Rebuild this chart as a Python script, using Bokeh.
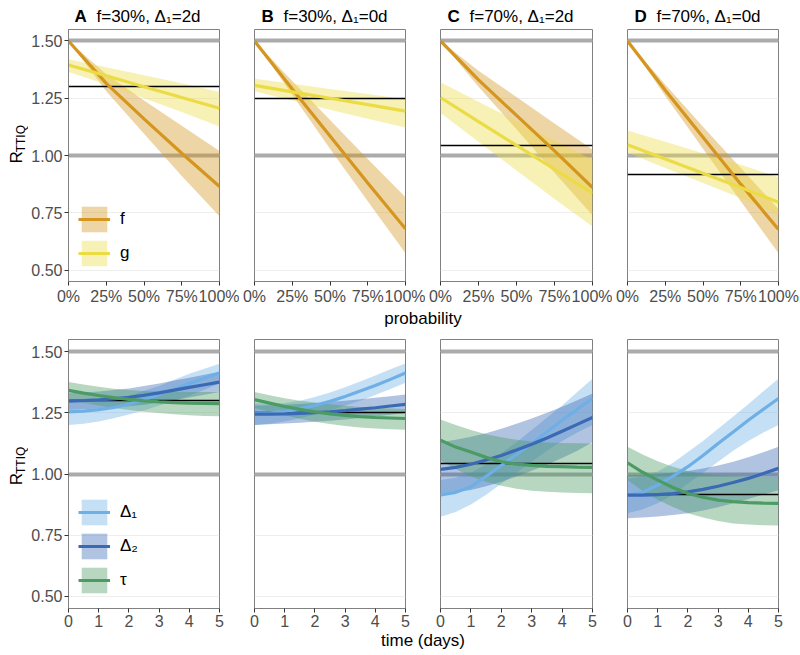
from math import pi
from bokeh.plotting import figure
from bokeh.layouts import column, row
from bokeh.models import Range1d, FixedTicker, NumeralTickFormatter, Label, Legend, LegendItem
from bokeh.core.properties import value
from bokeh.embed import file_html
from bokeh.resources import INLINE

FONT = "Liberation Sans"

# ---------------- data ----------------
letters = ["A", "B", "C", "D"]
titles = ["f=30%, Δ₁=2d", "f=30%, Δ₁=0d", "f=70%, Δ₁=2d", "f=70%, Δ₁=0d"]
reference_levels = [1.0, 1.5]
observed_R = [1.30, 1.25, 1.044, 0.918]
y_ticks = [0.5, 0.75, 1.0, 1.25, 1.5]
prob_ticks = [0, 0.25, 0.5, 0.75, 1.0]
day_ticks = [0, 1, 2, 3, 4, 5]

prob = [0.0, 0.25, 0.5, 0.75, 1.0]
f_mid = [[1.50, 1.315, 1.16, 1.01, 0.865],
         [1.50, 1.29, 1.085, 0.88, 0.68],
         [1.50, 1.33, 1.175, 1.02, 0.86],
         [1.50, 1.285, 1.08, 0.875, 0.677]]
f_hi = [[1.50, 1.355, 1.24, 1.13, 1.02],
        [1.50, 1.325, 1.155, 0.985, 0.818],
        [1.50, 1.37, 1.255, 1.14, 1.026],
        [1.50, 1.31, 1.125, 0.945, 0.767]]
f_lo = [[1.50, 1.28, 1.095, 0.91, 0.735],
        [1.50, 1.265, 1.03, 0.80, 0.573],
        [1.50, 1.30, 1.115, 0.925, 0.739],
        [1.50, 1.26, 1.03, 0.80, 0.573]]
g_mid = [[1.395, 1.348, 1.30, 1.253, 1.206],
         [1.306, 1.278, 1.25, 1.222, 1.194],
         [1.253, 1.148, 1.044, 0.94, 0.835],
         [1.047, 0.985, 0.922, 0.86, 0.796]]
g_hi = [[1.42, 1.385, 1.35, 1.315, 1.277],
        [1.335, 1.313, 1.29, 1.268, 1.246],
        [1.32, 1.235, 1.15, 1.065, 0.98],
        [1.109, 1.06, 1.01, 0.96, 0.905]]
g_lo = [[1.365, 1.31, 1.25, 1.19, 1.127],
        [1.28, 1.24, 1.20, 1.16, 1.122],
        [1.185, 1.06, 0.935, 0.81, 0.69],
        [1.012, 0.945, 0.88, 0.815, 0.74]]

days = [0.0, 0.5, 1.0, 1.5, 2.0, 2.5, 3.0, 3.5, 4.0, 4.5, 5.0]
d1_mid = [[1.254, 1.257, 1.263, 1.272, 1.285, 1.305, 1.325, 1.347, 1.370, 1.392, 1.413],
          [1.247, 1.249, 1.255, 1.266, 1.28, 1.297, 1.317, 1.339, 1.362, 1.387, 1.413],
          [0.914, 0.925, 0.948, 0.99, 1.036, 1.08, 1.125, 1.172, 1.22, 1.265, 1.31],
          [0.914, 0.925, 0.955, 0.99, 1.03, 1.076, 1.125, 1.172, 1.22, 1.265, 1.309]]
d1_hi = [[1.295, 1.29, 1.295, 1.305, 1.32, 1.34, 1.36, 1.385, 1.41, 1.43, 1.451],
         [1.29, 1.287, 1.29, 1.30, 1.315, 1.333, 1.355, 1.378, 1.403, 1.428, 1.452],
         [0.975, 0.985, 1.005, 1.04, 1.085, 1.13, 1.18, 1.23, 1.28, 1.335, 1.39],
         [0.98, 0.99, 1.01, 1.045, 1.09, 1.135, 1.185, 1.235, 1.285, 1.338, 1.39]]
d1_lo = [[1.20, 1.205, 1.215, 1.228, 1.243, 1.26, 1.28, 1.30, 1.32, 1.345, 1.37],
         [1.20, 1.205, 1.215, 1.228, 1.243, 1.26, 1.28, 1.30, 1.323, 1.348, 1.373],
         [0.825, 0.845, 0.875, 0.915, 0.96, 1.005, 1.05, 1.095, 1.135, 1.17, 1.20],
         [0.84, 0.855, 0.88, 0.915, 0.96, 1.005, 1.05, 1.095, 1.135, 1.17, 1.20]]
d2_mid = [[1.298, 1.30, 1.303, 1.307, 1.313, 1.322, 1.332, 1.343, 1.354, 1.365, 1.376],
          [1.245, 1.245, 1.246, 1.248, 1.251, 1.254, 1.259, 1.265, 1.271, 1.278, 1.285],
          [1.019, 1.027, 1.04, 1.057, 1.076, 1.098, 1.122, 1.147, 1.175, 1.203, 1.231],
          [0.914, 0.914, 0.916, 0.92, 0.927, 0.937, 0.95, 0.965, 0.982, 1.002, 1.023]]
d2_hi = [[1.33, 1.333, 1.337, 1.343, 1.35, 1.36, 1.37, 1.382, 1.394, 1.406, 1.418],
         [1.28, 1.281, 1.283, 1.286, 1.29, 1.295, 1.30, 1.306, 1.312, 1.318, 1.325],
         [1.13, 1.14, 1.152, 1.167, 1.185, 1.205, 1.227, 1.25, 1.275, 1.302, 1.329],
         [0.995, 0.997, 1.0, 1.005, 1.012, 1.022, 1.035, 1.05, 1.068, 1.089, 1.111]]
d2_lo = [[1.262, 1.265, 1.268, 1.272, 1.277, 1.283, 1.292, 1.302, 1.313, 1.324, 1.335],
         [1.20, 1.203, 1.206, 1.21, 1.214, 1.218, 1.223, 1.229, 1.235, 1.242, 1.25],
         [0.92, 0.925, 0.935, 0.95, 0.968, 0.99, 1.013, 1.038, 1.065, 1.095, 1.13],
         [0.819, 0.822, 0.826, 0.832, 0.84, 0.851, 0.864, 0.88, 0.898, 0.916, 0.934]]
tau_mid = [[1.342, 1.331, 1.321, 1.312, 1.305, 1.299, 1.295, 1.292, 1.29, 1.289, 1.288],
           [1.304, 1.29, 1.276, 1.264, 1.254, 1.246, 1.24, 1.235, 1.231, 1.229, 1.227],
           [1.138, 1.11, 1.09, 1.068, 1.05, 1.04, 1.035, 1.031, 1.03, 1.028, 1.027],
           [1.046, 1.007, 0.975, 0.945, 0.92, 0.905, 0.893, 0.887, 0.883, 0.881, 0.88]]
tau_hi = [[1.376, 1.366, 1.357, 1.349, 1.343, 1.339, 1.337, 1.336, 1.335, 1.335, 1.335],
          [1.335, 1.322, 1.31, 1.30, 1.292, 1.285, 1.279, 1.274, 1.27, 1.268, 1.266],
          [1.223, 1.2, 1.18, 1.163, 1.15, 1.14, 1.133, 1.129, 1.127, 1.126, 1.125],
          [1.111, 1.08, 1.052, 1.03, 1.012, 1.0, 0.995, 0.992, 0.99, 0.989, 0.989]]
tau_lo = [[1.30, 1.29, 1.28, 1.27, 1.262, 1.255, 1.249, 1.244, 1.24, 1.237, 1.236],
          [1.27, 1.255, 1.24, 1.226, 1.214, 1.204, 1.196, 1.19, 1.186, 1.183, 1.181],
          [1.055, 1.02, 0.99, 0.968, 0.952, 0.94, 0.932, 0.927, 0.924, 0.922, 0.921],
          [0.975, 0.93, 0.895, 0.865, 0.84, 0.822, 0.808, 0.798, 0.793, 0.79, 0.789]]

# ---------------- style / layout ----------------
C_F, C_G = "#D4961F", "#EBDC46"
C_D1, C_D2, C_TAU = "#6EAFE6", "#3A6AB4", "#4B9B64"
BAND_ALPHA = 0.4
GREY = "#ABABAB"
BORDER = "#808080"
FRAME_W = [152, 151, 152, 151]
FRAME_X = [67, 254, 440, 627]          # page x of each panel's left edge
YLAB_W = 28                            # width of the y-title strip
TOP = dict(tb=2, fh=254, bb=24)
BOT = dict(tb=9, fh=269, bb=24)


def make_fig(col, top):
    left = (67 - YLAB_W if col == 0 else 15)
    right = 21 if col == 3 else 20
    fw = FRAME_W[col]
    g = TOP if top else BOT
    xr = Range1d(0, 1) if top else Range1d(0, 5)
    p = figure(width=left + fw + right, height=g["tb"] + g["fh"] + g["bb"],
               x_range=xr, y_range=Range1d(0.45, 1.55),
               output_backend="svg", toolbar_location=None,
               min_border_left=left, min_border_right=right,
               min_border_top=g["tb"], min_border_bottom=g["bb"])
    p.outline_line_color = BORDER
    p.outline_line_width = 1
    p.background_fill_color = "white"
    p.border_fill_color = "white"
    p.xgrid.visible = False
    p.ygrid.ticker = FixedTicker(ticks=y_ticks, minor_ticks=[])
    p.ygrid.grid_line_color = "#EEEEEE"
    p.ygrid.grid_line_width = 1
    for ax in (p.xaxis[0], p.yaxis[0]):
        ax.axis_line_color = BORDER
        ax.major_tick_in = 0
        ax.major_tick_out = 4
        ax.minor_tick_out = 0
        ax.minor_tick_in = 0
        ax.major_tick_line_color = "#333333"
        ax.major_label_text_color = "#4D4D4D"
        ax.major_label_text_font = FONT
        ax.major_label_text_font_size = "16px"
        ax.major_label_standoff = 2
    p.yaxis.ticker = FixedTicker(ticks=y_ticks, minor_ticks=[])
    p.yaxis.formatter = NumeralTickFormatter(format="0.00")
    if top:
        p.xaxis.ticker = FixedTicker(ticks=prob_ticks, minor_ticks=[])
        p.xaxis.formatter = NumeralTickFormatter(format="0%")
    else:
        p.xaxis.ticker = FixedTicker(ticks=day_ticks, minor_ticks=[])
        p.xaxis.formatter = NumeralTickFormatter(format="0")
    if col != 0:
        p.yaxis.visible = False
    p.hspan(y=reference_levels, line_color=GREY, line_width=4)
    return p


def add_legend(p, items):
    leg = Legend(items=items, location=(10, 12), orientation="vertical",
                 glyph_width=32, glyph_height=32, spacing=2, padding=0, margin=0,
                 label_standoff=10, label_text_font=FONT, label_text_font_size="17px",
                 label_text_color="black",
                 background_fill_alpha=0, border_line_alpha=0)
    p.add_layout(leg)


def blank(w, h):
    s = figure(width=w, height=h, x_axis_type=None, y_axis_type=None,
               output_backend="svg", toolbar_location=None, min_border=0,
               x_range=Range1d(0, w), y_range=Range1d(0, h))
    s.outline_line_color = None
    s.grid.visible = False
    return s


def ylab_strip(g):
    h = g["tb"] + g["fh"] + g["bb"]
    s = blank(YLAB_W, h)
    c = g["bb"] + g["fh"] / 2.0
    s.text(x=[16], y=[c - 20], text=["R"], angle=pi / 2,
           text_align="left", text_baseline="alphabetic",
           text_font=value(FONT), text_font_size=value("17px"), text_color="black")
    s.text(x=[20], y=[c - 20 + 12.5], text=["TTIQ"], angle=pi / 2,
           text_align="left", text_baseline="alphabetic",
           text_font=value(FONT), text_font_size=value("12px"), text_color="black")
    return s


top_figs, bot_figs = [], []
for col in range(4):
    p = make_fig(col, True)
    bf = p.varea(x=prob, y1=f_lo[col], y2=f_hi[col], fill_color=C_F, fill_alpha=BAND_ALPHA)
    bg = p.varea(x=prob, y1=g_lo[col], y2=g_hi[col], fill_color=C_G, fill_alpha=BAND_ALPHA)
    p.hspan(y=[observed_R[col]], line_color="black", line_width=1.5)
    lf = p.line(prob, f_mid[col], line_color=C_F, line_width=3.2)
    lg = p.line(prob, g_mid[col], line_color=C_G, line_width=3.2)
    if col == 0:
        add_legend(p, [LegendItem(label="f", renderers=[bf, lf]),
                       LegendItem(label="g", renderers=[bg, lg])])
    top_figs.append(p)

    q = make_fig(col, False)
    b1 = q.varea(x=days, y1=d1_lo[col], y2=d1_hi[col], fill_color=C_D1, fill_alpha=BAND_ALPHA)
    b2 = q.varea(x=days, y1=d2_lo[col], y2=d2_hi[col], fill_color=C_D2, fill_alpha=BAND_ALPHA)
    b3 = q.varea(x=days, y1=tau_lo[col], y2=tau_hi[col], fill_color=C_TAU, fill_alpha=BAND_ALPHA)
    q.hspan(y=[observed_R[col]], line_color="black", line_width=1.5)
    l1 = q.line(days, d1_mid[col], line_color=C_D1, line_width=3.2)
    l2 = q.line(days, d2_mid[col], line_color=C_D2, line_width=3.2)
    l3 = q.line(days, tau_mid[col], line_color=C_TAU, line_width=3.2)
    if col == 0:
        add_legend(q, [LegendItem(label="Δ₁", renderers=[b1, l1]),
                       LegendItem(label="Δ₂", renderers=[b2, l2]),
                       LegendItem(label="τ", renderers=[b3, l3])])
    bot_figs.append(q)

# panel titles strip
TITLE_H = 27
title_strip = blank(800, TITLE_H)
for col in range(4):
    title_strip.add_layout(Label(x=FRAME_X[col] + 7, y=TITLE_H - 16, x_units="screen",
                                 y_units="screen", text=letters[col], text_font=FONT,
                                 text_font_style="bold", text_font_size="17px",
                                 text_baseline="alphabetic", text_color="black"))
    title_strip.add_layout(Label(x=FRAME_X[col] + 29, y=TITLE_H - 16, x_units="screen",
                                 y_units="screen", text=titles[col], text_font=FONT,
                                 text_font_size="17px", text_baseline="alphabetic",
                                 text_color="black"))


def xtitle_strip(text, h, cy_from_top):
    s = blank(800, h)
    s.add_layout(Label(x=422.5, y=h - cy_from_top, x_units="screen", y_units="screen",
                       text=text, text_align="center", text_baseline="middle",
                       text_font=FONT, text_font_size="17px", text_color="black"))
    return s


layout = column(
    title_strip,
    row(ylab_strip(TOP), *top_figs),
    xtitle_strip("probability", 23, 11),
    row(ylab_strip(BOT), *bot_figs),
    xtitle_strip("time (days)", 23, 8),
)

with open("out.html", "w") as fh_out:
    fh_out.write(file_html(layout, INLINE))
